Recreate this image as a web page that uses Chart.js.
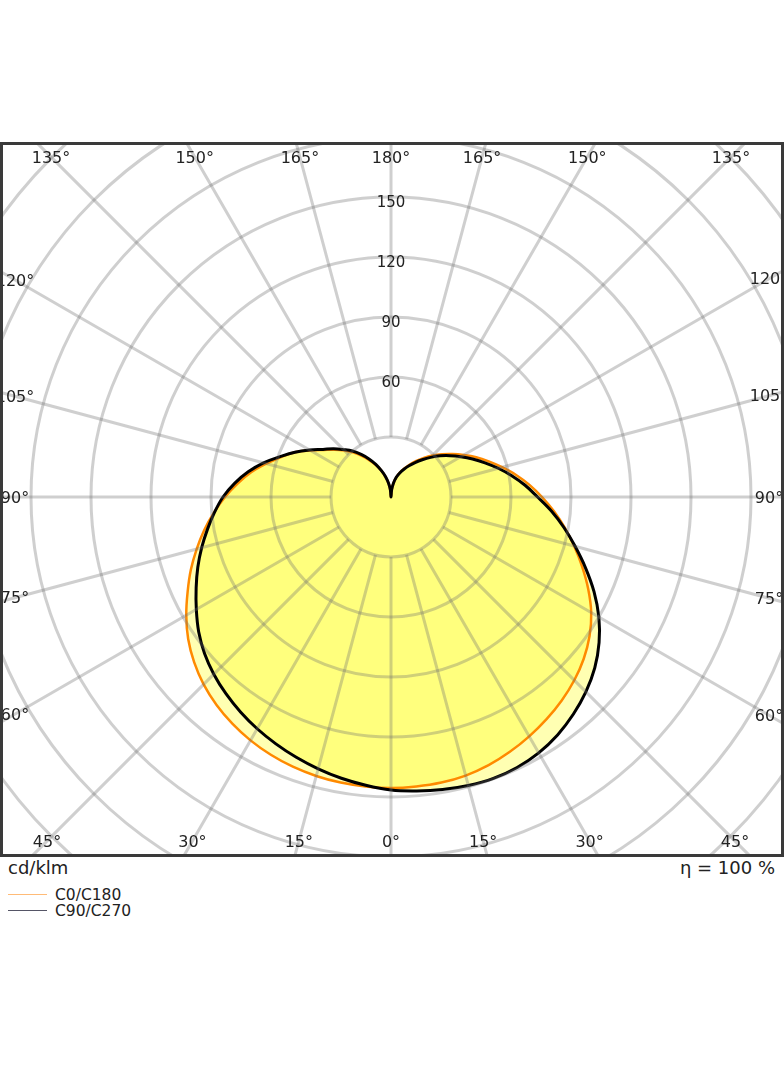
<!DOCTYPE html>
<html>
<head>
<meta charset="utf-8">
<script src="https://cdn.jsdelivr.net/npm/chart.js@4.4.0/dist/chart.umd.min.js"></script>
<style>
  html, body { margin: 0; padding: 0; background: #ffffff; }
  body { width: 784px; height: 1066px; position: relative; overflow: hidden; font-family: "DejaVu Sans", sans-serif; color: #222; }
  #box { position: absolute; left: 0; top: 142px; width: 784px; height: 715px; border: 3px solid #3a3a3a; box-sizing: border-box; overflow: hidden; }
  #chart { position: absolute; left: -152px; top: -188px; }
  .txt { position: absolute; white-space: nowrap; line-height: 1; }
  .leg { position: absolute; left: 8px; width: 39px; height: 0; }
</style>
</head>
<body>
<div id="box"><canvas id="chart" width="1080" height="1080"></canvas></div>
<div class="txt" style="left:8px; top:859px; font-size:18px;">cd/klm</div>
<div class="txt" style="right:9px; top:859px; font-size:18px;">η = 100 %</div>
<div class="leg" style="top:894px; border-top:1.5px solid #ffbb77;"></div>
<div class="txt" style="left:55px; top:888px; font-size:15.5px;">C0/C180</div>
<div class="leg" style="top:910px; border-top:1.5px solid #555566;"></div>
<div class="txt" style="left:55px; top:904px; font-size:15.5px;">C90/C270</div>
<script>
// Gamma angles (degrees from nadir), step 5
const gammas = [0,5,10,15,20,25,30,35,40,45,50,55,60,65,70,75,80,85,90,95,100,105,110,115,120,125,130,135,140,145,150,155,160,165,170,175,180];
// Luminous intensity, cd/klm
const c0   = [145.5,145.3,145,144.2,142.7,140.6,138.2,135.6,132.8,129.6,125.8,121.2,115.6,108.8,101.7,94.8,88.2,81.8,75.5,69.5,63.5,57.5,52,47,42,37.5,33.3,29.3,25.5,22,18.8,15.8,13,10.2,7,3.5,0];
const c180 = [145.5,145.3,145,144.4,143.5,142.2,140.5,138.3,135.7,132.5,128.5,123.8,118.2,112.2,106.5,100.6,94.8,88.8,83,77,71,64.5,58.5,53,46.5,41,36.8,32.8,29,25,21,17.5,14,10.3,6.8,3.3,0];
const c90  = [146.5,147.5,148.5,149.3,149.7,149.2,147.7,145.2,141.8,137.8,133,127,120,112,103.5,95.3,87.8,80.5,73.3,67.3,61.3,55.5,50,45,40.3,36,32,28,24.3,21,18,15.3,12.8,10.2,7,3.5,0];
const c270 = [146,144.7,142.8,140.7,138.5,136.2,133.8,131.2,128.4,125.3,121.7,117.4,112.4,107.5,102.8,98,93.2,88.6,84,78.5,72.5,66,59,53,47,41.5,37.5,33.5,30,26,22,18,14,10.5,7,3.5,0];
const seriesNames = ['C0/C180', 'C90/C270'];
const ringStep = 30;
const ringMax = 270;
const ringLabels = [60, 90, 120, 150];
const angleLabelStep = 15;

// Full-circle order, clockwise from the top (gamma 180): right half then left half
const step = gammas[1] - gammas[0];
const nPts = 360 / step;
const labels = [];
const orange = [];
const black = [];
for (let i = 0; i < nPts; i++) {
  const a = i * step;
  if (a <= 180) {
    const g = 180 - a; const k = gammas.indexOf(g);
    labels.push(g); orange.push(c0[k]); black.push(c90[k]);
  } else {
    const g = a - 180; const k = gammas.indexOf(g);
    labels.push(g); orange.push(c180[k]); black.push(c270[k]);
  }
}

const labelPlugin = {
  id: 'ldcLabels',
  afterDraw(chart) {
    const s = chart.scales.r;
    const ctx = chart.ctx;
    const cx = s.xCenter, cy = s.yCenter;
    // inset rectangle where the angle labels sit, relative to the pole
    const L = -376, R = 378, T = -340, B = 344;
    ctx.save();
    ctx.fillStyle = '#222';
    ctx.textAlign = 'center';
    ctx.textBaseline = 'middle';
    ctx.font = '16px "DejaVu Sans"';
    for (let a = 0; a < 360; a += angleLabelStep) {
      const rad = a * Math.PI / 180;
      const dx = Math.sin(rad), dy = -Math.cos(rad);
      let t = Infinity;
      if (dx > 1e-9) t = Math.min(t, R / dx);
      if (dx < -1e-9) t = Math.min(t, L / dx);
      if (dy > 1e-9) t = Math.min(t, B / dy);
      if (dy < -1e-9) t = Math.min(t, T / dy);
      const g = a <= 180 ? 180 - a : a - 180;
      ctx.fillText(g + '°', cx + t * dx, cy + t * dy + 1.5);
    }
    ctx.font = '15px "DejaVu Sans"';
    ringLabels.forEach(v => {
      const r = s.getDistanceFromCenterForValue(v);
      ctx.fillText(String(v), cx, cy - r + 6);
    });
    ctx.restore();
  }
};

new Chart(document.getElementById('chart'), {
  type: 'radar',
  data: {
    labels: labels,
    datasets: [
      { label: seriesNames[0], data: orange, borderColor: '#ff8a00', borderWidth: 2.5,
        backgroundColor: 'rgba(255,255,0,0.3)', fill: true, pointRadius: 0, tension: 0.38, order: 2 },
      { label: seriesNames[1], data: black, borderColor: '#000000', borderWidth: 3,
        backgroundColor: 'rgba(255,255,0,0.3)', fill: true, pointRadius: 0, tension: 0.38, order: 1 }
    ]
  },
  options: {
    responsive: false,
    animation: false,
    events: [],
    layout: { padding: 0 },
    plugins: {
      legend: { display: false },
      tooltip: { enabled: false },
      filler: { drawTime: 'beforeDatasetsDraw' }
    },
    scales: {
      r: {
        min: 0, max: ringMax, startAngle: 0,
        ticks: { display: false, stepSize: ringStep },
        pointLabels: { display: false },
        grid: { circular: true, color: 'rgba(110,110,110,0.33)', lineWidth: 3, z: 1 },
        angleLines: {
          display: true, color: 'rgba(110,110,110,0.33)',
          lineWidth: (c) => (c.index * step) % angleLabelStep === 0 ? 3 : 0,
          borderDash: [0, 60, 3000]
        }
      }
    }
  },
  plugins: [labelPlugin]
});
</script>
</body>
</html>
